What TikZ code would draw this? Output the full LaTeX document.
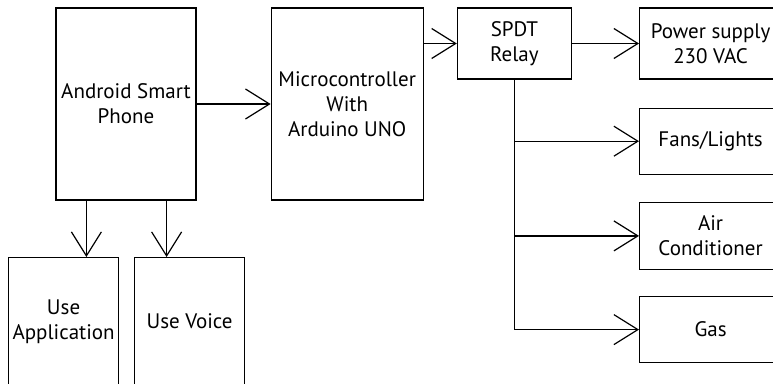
\documentclass[tikz,border=0pt]{standalone}
\usepackage{fontspec}
\setmainfont{PT Sans}
\usetikzlibrary{arrows.meta,positioning,calc}
\tikzset{
    box/.style={draw, line width=1.2pt, align=center, inner sep=2pt,
        font=\fontsize{21}{25}\selectfont},
    arr/.style={-{Straight Barb[length=24pt,width=30pt,line width=1.2pt]}, line width=1.2pt}
}
\begin{document}
\begin{tikzpicture}[x=1pt, y=-1pt]
\useasboundingbox (0,0) rectangle (773,383);
% phone and its two modes
\node[box, minimum width=140pt, minimum height=192pt] (phone) at (126,104) {Android Smart\\Phone};
\node[box, minimum width=110pt, minimum height=128pt, anchor=north west] (app) at (8,257) {Use\\Application};
\node[box, minimum width=110pt, minimum height=128pt, anchor=north west] (voice) at (134,257) {Use Voice};
% controller and relay
\node[box, minimum width=152pt, minimum height=192pt, right=74pt of phone] (mcu) {Microcontroller\\With\\Arduino UNO};
\node[box, minimum width=114pt, minimum height=71pt, right=33pt of mcu.north east, anchor=north west] (relay) {SPDT\\Relay};
% loads
\node[box, minimum width=142pt, minimum height=71pt, right=67pt of relay] (power) {Power supply\\230 VAC};
\node[box, minimum width=142pt, minimum height=66pt, below=28pt of power] (fans) {Fans/Lights};
\node[box, minimum width=142pt, minimum height=67pt, below=27pt of fans] (ac) {Air\\Conditioner};
\node[box, minimum width=142pt, minimum height=66pt, below=26pt of ac] (gas) {Gas};

\coordinate (appTop) at ($(phone.south west)+(31,0)$);
\coordinate (voiceTop) at ($(phone.south east)+(-30,0)$);
\draw[arr] (appTop) -- (appTop |- app.north);
\draw[arr] (voiceTop) -- (voiceTop |- voice.north);
\draw[arr] (phone) -- (mcu);
\draw[arr] (mcu.east |- relay) -- (relay);
\draw[arr] (relay) -- (power);
\draw[line width=1.2pt] (relay.south) -- (relay.south |- gas);
\draw[arr] (relay.south |- fans) -- (fans);
\draw[arr] (relay.south |- ac) -- (ac);
\draw[arr] (relay.south |- gas) -- (gas);
\end{tikzpicture}
\end{document}
